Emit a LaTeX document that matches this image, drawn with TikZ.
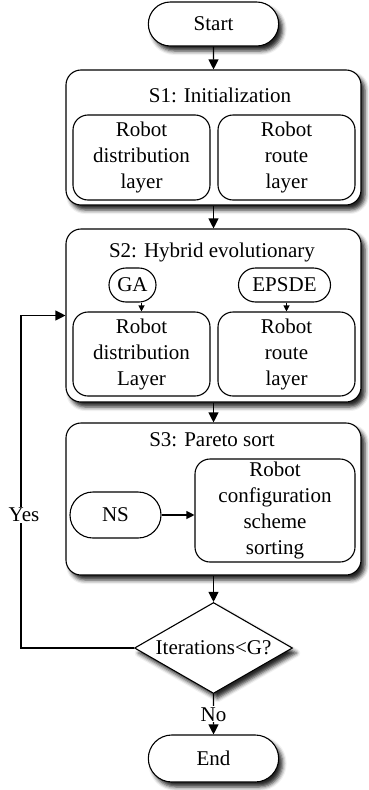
\documentclass[tikz,border=0pt]{standalone}
\usepackage{fontspec}
\setmainfont{Liberation Serif}
\usetikzlibrary{arrows.meta,shapes.misc,shapes.geometric,shadows.blur}

\tikzset{
  shade/.style={blur shadow={shadow xshift=4pt,shadow yshift=-5pt,shadow blur radius=4pt,shadow opacity=85}},
  term/.style={draw,rounded rectangle,fill=white,minimum width=137pt,minimum height=44pt,shade},
  stage/.style={draw,rounded corners=15pt,fill=white,minimum width=295pt,shade},
  inbox/.style={draw,rounded corners=15pt,fill=white,align=center,minimum width=137pt,minimum height=85pt,inner sep=0pt},
  pill/.style={draw,rounded rectangle,fill=white,minimum height=34pt,inner sep=2pt},
  cond/.style={draw,diamond,aspect=1.74,fill=white,minimum width=158pt,minimum height=91pt,inner sep=0pt,shade},
  small/.style={-{Triangle[length=6pt,width=6pt]}}
}

\begin{document}
\begin{tikzpicture}[x=1pt,y=-1pt,line width=1.1pt,
    font=\fontsize{21}{26}\selectfont,
    >={Triangle[length=10pt,width=10pt]}]

    \useasboundingbox (0,0) rectangle (368,790);

    % start
    \node[term] (start) at (213.5,24) {Start};

    % S1
    \node[stage,minimum height=135pt] (s1) at (213.5,137.5) {};
    \node (s1t) at (220,95) {S1: Initialization};
    \node[inbox] (s1a) at (141.5,157.5) {Robot\\distribution\\layer};
    \node[inbox] (s1b) at (286.5,157.5) {Robot\\route\\layer};

    % S2
    \node[stage,minimum height=173pt] (s2) at (213.5,315.5) {};
    \node (s2t) at (212,252) {S2: Hybrid evolutionary};
    \node[pill,minimum width=51pt] (ga) at (132.5,285) {GA};
    \node[pill,minimum width=96pt] (epsde) at (284.5,285) {EPSDE};
    \node[inbox,minimum height=84pt] (s2a) at (141.5,354) {Robot\\distribution\\Layer};
    \node[inbox,minimum height=84pt] (s2b) at (286.5,354) {Robot\\route\\layer};

    % S3
    \node[stage,minimum height=152pt] (s3) at (213.5,499) {};
    \node (s3t) at (212,440) {S3: Pareto sort};
    \node[pill,minimum width=95pt,minimum height=46pt] (ns) at (115.5,515) {NS};
    \node[inbox,minimum width=160pt,minimum height=103pt] (sort) at (275,510.5) {Robot\\configuration\\scheme\\sorting};

    % decision and end
    \node[cond] (cond) at (213.5,648) {Iterations<G?};
    \node[term,minimum height=47pt] (end) at (213.5,758.5) {End};
    \coordinate (loop) at (21,648);

    % main flow
    \draw[->] (start) -- (s1);
    \draw[->] (s1) -- (s2);
    \draw[->] (s2) -- (s3);
    \draw[->] (s3) -- (cond);
    \draw[->] (cond) -- node[fill=white,inner sep=1pt] {No} (end);

    % inside the stages
    \draw[small] (ga.south -| s2a.north) -- (s2a.north);
    \draw[small] (epsde.south -| s2b.north) -- (s2b.north);
    \draw[-{Triangle[length=8pt,width=8pt]}] (ns.east) -- (ns.east -| sort.west);

    % loop back
    \draw[->] (cond.west) -- (loop) |- node[pos=0.2,fill=white,inner sep=1pt,xshift=3pt] {Yes} (s2.west);

\end{tikzpicture}
\end{document}
